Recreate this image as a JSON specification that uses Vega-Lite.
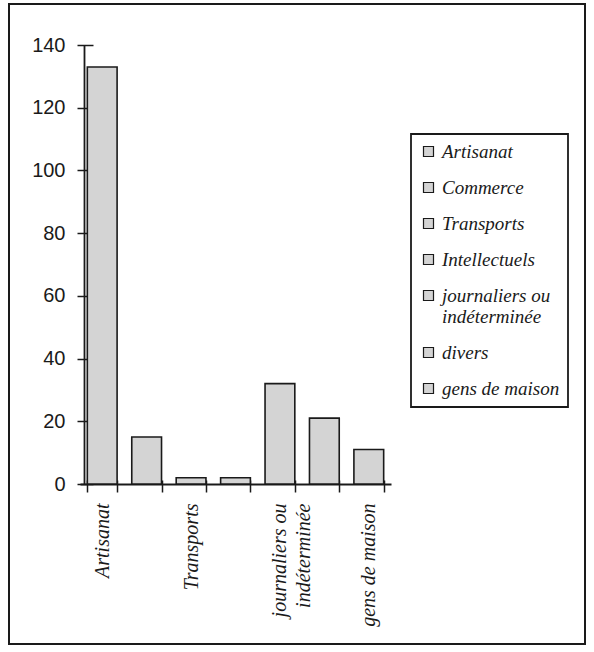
{
  "$schema": "https://vega.github.io/schema/vega-lite/v6.json",
  "width": 576,
  "height": 640,
  "autosize": "none",
  "padding": {"left": 9, "top": 4, "right": 9, "bottom": 8},
  "background": "white",
  "data": {
    "values": [
      {"categorie": "Artisanat", "effectif": 133},
      {"categorie": "Commerce", "effectif": 15},
      {"categorie": "Transports", "effectif": 2},
      {"categorie": "Intellectuels", "effectif": 2},
      {"categorie": "journaliers ou indéterminée", "effectif": 32},
      {"categorie": "divers", "effectif": 21},
      {"categorie": "gens de maison", "effectif": 11}
    ]
  },
  "layer": [
    {
      "mark": {"type": "bar", "strokeWidth": 0},
      "encoding": {
        "x": {
          "field": "categorie", "type": "nominal", "sort": null,
          "scale": {"range": [71, 382], "paddingInner": 0.33, "paddingOuter": 0.165},
          "axis": {
            "orient": "bottom", "offset": -164, "domain": false, "tickSize": 12, "tickWidth": 1.5, "tickColor": "#1a1a1a",
            "tickBand": "extent", "title": null, "labelAngle": 270, "labelPadding": 11,
            "labelFont": "Liberation Serif", "labelFontStyle": "italic", "labelFontSize": 20, "labelColor": "#1a1a1a",
            "labelLineHeight": 24,
            "labelExpr": "datum.label == 'journaliers ou indéterminée' ? ['journaliers ou', 'indéterminée'] : (datum.label == 'Artisanat' || datum.label == 'Transports' || datum.label == 'gens de maison') ? datum.label : ''"
          }
        },
        "y": {
          "field": "effectif", "type": "quantitative",
          "scale": {"domain": [0, 140], "range": [480, 41], "nice": false},
          "axis": {
            "orient": "left", "offset": -84, "domain": false, "tickSize": 16, "tickWidth": 1.5, "tickColor": "#1a1a1a",
            "values": [0, 20, 40, 60, 80, 100, 120, 140], "title": null, "grid": false, "labelPadding": 12,
            "labelFont": "Liberation Sans", "labelFontSize": 20, "labelColor": "#1a1a1a"
          }
        },
        "color": {
          "field": "categorie", "type": "nominal",
          "scale": {
            "domain": ["Artisanat", "Commerce", "Transports", "Intellectuels", "journaliers ou indéterminée", "divers", "gens de maison"],
            "range": ["#d4d4d4", "#d4d4d4", "#d4d4d4", "#d4d4d4", "#d4d4d4", "#d4d4d4", "#d4d4d4"]
          },
          "legend": {
            "orient": "none", "legendX": 402, "legendY": 130, "title": null,
            "strokeColor": "#1a1a1a", "padding": 8, "rowPadding": 16,
            "symbolType": "square", "symbolSize": 100, "symbolStrokeColor": "#1a1a1a", "symbolStrokeWidth": 1.2,
            "labelOffset": 4, "labelFont": "Liberation Serif", "labelFontStyle": "italic", "labelFontSize": 19,
            "labelColor": "#1a1a1a", "labelLineHeight": 22, "labelLimit": 300,
            "labelExpr": "datum.label == 'journaliers ou indéterminée' ? ['journaliers ou', 'indéterminée'] : datum.label"
          }
        }
      }
    },
    {
      "mark": {"type": "bar", "fill": null, "fillOpacity": 0, "stroke": "#1a1a1a", "strokeWidth": 1.6},
      "encoding": {
        "x": {
          "field": "categorie", "type": "nominal", "sort": null,
          "axis": {"orient": "bottom", "offset": -160, "domain": true, "domainWidth": 1.8, "domainColor": "#1a1a1a", "ticks": false, "labels": false, "title": null}
        },
        "y": {
          "field": "effectif", "type": "quantitative",
          "axis": {"orient": "left", "offset": -75, "domain": true, "domainWidth": 1.8, "domainColor": "#1a1a1a", "ticks": false, "labels": false, "grid": false, "title": null}
        }
      }
    }
  ],
  "resolve": {"axis": {"x": "independent", "y": "independent"}},
  "config": {
    "view": {"stroke": "#1a1a1a", "strokeWidth": 2},
    "legend": {"strokeWidth": 1.8}
  }
}
